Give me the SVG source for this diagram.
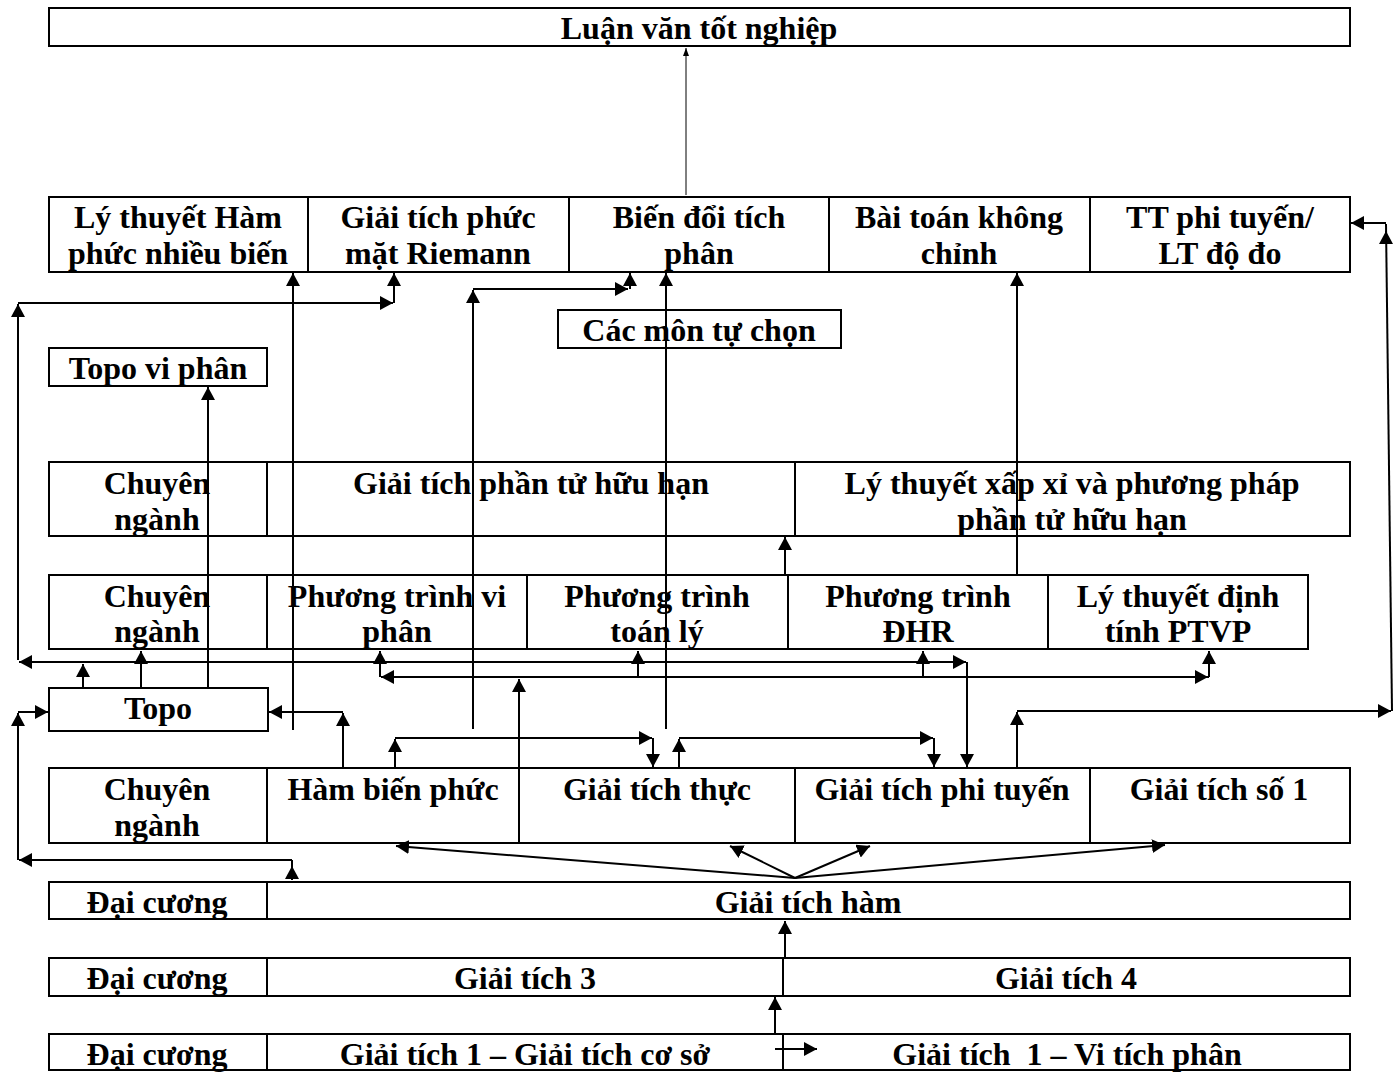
<svg xmlns="http://www.w3.org/2000/svg" width="1400" height="1072" viewBox="0 0 1400 1072">
<style>
.box{fill:#fff;stroke:#000;stroke-width:2}
.t{font-family:"Liberation Serif","Times New Roman",serif;font-weight:bold;font-size:32px;text-anchor:middle;fill:#000}
.c{fill:none;stroke:#000;stroke-width:2}
.a{fill:none;stroke:#000;stroke-width:2;marker-end:url(#ah)}
.thin{fill:none;stroke:#000;stroke-width:1;marker-end:url(#sh)}
</style>
<defs>
<marker id="ah" markerUnits="userSpaceOnUse" markerWidth="14" markerHeight="14" refX="13" refY="7" orient="auto" viewBox="0 0 14 14">
<path d="M0,0 L13,7 L0,14 z" fill="#000"/>
</marker>
<marker id="sh" markerUnits="userSpaceOnUse" markerWidth="8" markerHeight="6" refX="8" refY="3" orient="auto" viewBox="0 0 8 6">
<path d="M0,0 L8,3 L0,6 z" fill="#000"/>
</marker>
</defs>
<rect width="1400" height="1072" fill="#fff"/>

<g id="luan-van"><rect class="box" x="49" y="8" width="1301" height="38"/><text class="t" x="699" y="39">Luận văn tốt nghiệp</text></g>

<g id="ly-thuyet-ham"><rect class="box" x="49" y="197" width="259" height="75"/><text class="t" x="178" y="228">Lý thuyết Hàm</text><text class="t" x="178" y="264">phức nhiều biến</text></g>
<g id="giai-tich-phuc"><rect class="box" x="308" y="197" width="261" height="75"/><text class="t" x="438" y="228">Giải tích phức</text><text class="t" x="438" y="264">mặt Riemann</text></g>
<g id="bien-doi"><rect class="box" x="569" y="197" width="260" height="75"/><text class="t" x="699" y="228">Biến đổi tích</text><text class="t" x="699" y="264">phân</text></g>
<g id="bai-toan"><rect class="box" x="829" y="197" width="261" height="75"/><text class="t" x="959" y="228">Bài toán không</text><text class="t" x="959" y="264">chỉnh</text></g>
<g id="tt-phi-tuyen"><rect class="box" x="1090" y="197" width="260" height="75"/><text class="t" x="1220" y="228">TT phi tuyến/</text><text class="t" x="1220" y="264">LT độ đo</text></g>

<g id="cac-mon"><rect class="box" x="558" y="310" width="283" height="38"/><text class="t" x="699" y="341">Các môn tự chọn</text></g>
<g id="topo-vi-phan"><rect class="box" x="49" y="348" width="218" height="38"/><text class="t" x="158" y="379">Topo vi phân</text></g>

<g id="chuyen-nganh-3"><rect class="box" x="49" y="462" width="218" height="74"/><text class="t" x="157" y="494">Chuyên</text><text class="t" x="157" y="530">ngành</text></g>
<g id="gt-pthh"><rect class="box" x="267" y="462" width="528" height="74"/><text class="t" x="531" y="494">Giải tích phần tử hữu hạn</text></g>
<g id="lt-xap-xi"><rect class="box" x="795" y="462" width="555" height="74"/><text class="t" x="1072" y="494">Lý thuyết xấp xỉ và phương pháp</text><text class="t" x="1072" y="530">phần tử hữu hạn</text></g>

<g id="chuyen-nganh-2"><rect class="box" x="49" y="575" width="218" height="74"/><text class="t" x="157" y="607">Chuyên</text><text class="t" x="157" y="642">ngành</text></g>
<g id="pt-vi-phan"><rect class="box" x="267" y="575" width="260" height="74"/><text class="t" x="397" y="607">Phương trình vi</text><text class="t" x="397" y="642">phân</text></g>
<g id="pt-toan-ly"><rect class="box" x="527" y="575" width="261" height="74"/><text class="t" x="657" y="607">Phương trình</text><text class="t" x="657" y="642">toán lý</text></g>
<g id="pt-dhr"><rect class="box" x="788" y="575" width="260" height="74"/><text class="t" x="918" y="607">Phương trình</text><text class="t" x="918" y="642">ĐHR</text></g>
<g id="lt-dinh-tinh"><rect class="box" x="1048" y="575" width="260" height="74"/><text class="t" x="1178" y="607">Lý thuyết định</text><text class="t" x="1178" y="642">tính PTVP</text></g>

<g id="topo"><rect class="box" x="49" y="688" width="219" height="43"/><text class="t" x="158" y="719">Topo</text></g>

<g id="chuyen-nganh-1"><rect class="box" x="49" y="768" width="218" height="75"/><text class="t" x="157" y="800">Chuyên</text><text class="t" x="157" y="836">ngành</text></g>
<g id="ham-bien-phuc"><rect class="box" x="267" y="768" width="252" height="75"/><text class="t" x="393" y="800">Hàm biến phức</text></g>
<g id="gt-thuc"><rect class="box" x="519" y="768" width="276" height="75"/><text class="t" x="657" y="800">Giải tích thực</text></g>
<g id="gt-phi-tuyen"><rect class="box" x="795" y="768" width="295" height="75"/><text class="t" x="942" y="800">Giải tích phi tuyến</text></g>
<g id="gt-so-1"><rect class="box" x="1090" y="768" width="260" height="75"/><text class="t" x="1219" y="800">Giải tích số 1</text></g>

<g id="dai-cuong-3"><rect class="box" x="49" y="882" width="218" height="37"/><text class="t" x="157" y="913">Đại cương</text></g>
<g id="gt-ham"><rect class="box" x="267" y="882" width="1083" height="37"/><text class="t" x="808" y="913">Giải tích hàm</text></g>

<g id="dai-cuong-2"><rect class="box" x="49" y="958" width="218" height="38"/><text class="t" x="157" y="989">Đại cương</text></g>
<g id="gt-3"><rect class="box" x="267" y="958" width="516" height="38"/><text class="t" x="525" y="989">Giải tích 3</text></g>
<g id="gt-4"><rect class="box" x="783" y="958" width="567" height="38"/><text class="t" x="1066" y="989">Giải tích 4</text></g>

<g id="dai-cuong-1"><rect class="box" x="49" y="1034" width="218" height="36"/><text class="t" x="157" y="1065">Đại cương</text></g>
<g id="gt-1-co-so"><rect class="box" x="267" y="1034" width="516" height="36"/><text class="t" x="525" y="1065">Giải tích 1 – Giải tích cơ sở</text></g>
<g id="gt-1-vi-tich-phan"><rect class="box" x="783" y="1034" width="567" height="36"/><text class="t" x="1067" y="1065" xml:space="preserve">Giải tích  1 – Vi tích phân</text></g>

<g id="connectors">
<path class="thin" d="M686,195 L686,48"/>
<path class="a" d="M83,688 L83,664"/>
<path class="a" d="M83,662 L19,662"/>
<path class="a" d="M18,660 L18,304"/>
<path class="a" d="M18,303 L393,303"/>
<path class="a" d="M394,303 L394,273"/>
<path class="a" d="M293,730 L293,273"/>
<path class="a" d="M473,729 L473,290"/>
<path class="a" d="M473,289 L628,289"/>
<path class="a" d="M630,289 L630,273"/>
<path class="a" d="M666,729 L666,273"/>
<path class="a" d="M1017,575 L1017,273"/>
<path class="a" d="M785,575 L785,537"/>
<path class="a" d="M208,688 L208,387"/>
<path class="a" d="M141,688 L141,651"/>
<path class="a" d="M83,662 L966,662"/>
<path class="a" d="M967,662 L967,767"/>
<path class="a" d="M1209,677 L381,677"/>
<path class="a" d="M380,677 L380,651"/>
<path class="a" d="M638,677 L638,651"/>
<path class="a" d="M923,677 L923,651"/>
<path class="a" d="M519,677 L1208,677"/>
<path class="a" d="M1209,677 L1209,651"/>
<path class="a" d="M519,768 L519,679"/>
<path class="a" d="M395,768 L395,739"/>
<path class="a" d="M395,738 L652,738"/>
<path class="a" d="M653,738 L653,767"/>
<path class="a" d="M679,768 L679,739"/>
<path class="a" d="M679,738 L933,738"/>
<path class="a" d="M934,738 L934,767"/>
<path class="a" d="M1017,768 L1017,712"/>
<path class="a" d="M1017,711 L1391,711"/>
<path class="c" d="M1392,711 L1386,224"/>
<path class="a" d="M1386,240 L1386,231"/>
<path class="a" d="M1386,223 L1351,223"/>
<path class="a" d="M343,768 L343,713"/>
<path class="a" d="M343,712 L269,712"/>
<path class="a" d="M292,880 L292,866"/>
<path class="c" d="M292,866 L292,860"/>
<path class="a" d="M292,860 L19,860"/>
<path class="a" d="M18,860 L18,713"/>
<path class="a" d="M18,712 L48,712"/>
<path class="a" d="M795,878 L396,846"/>
<path class="a" d="M795,878 L730,846"/>
<path class="a" d="M795,878 L870,846"/>
<path class="a" d="M795,878 L1165,845"/>
<path class="a" d="M785,958 L785,921"/>
<path class="a" d="M775,1034 L775,997"/>
<path class="a" d="M775,1049 L817,1049"/>
</g>
</svg>
